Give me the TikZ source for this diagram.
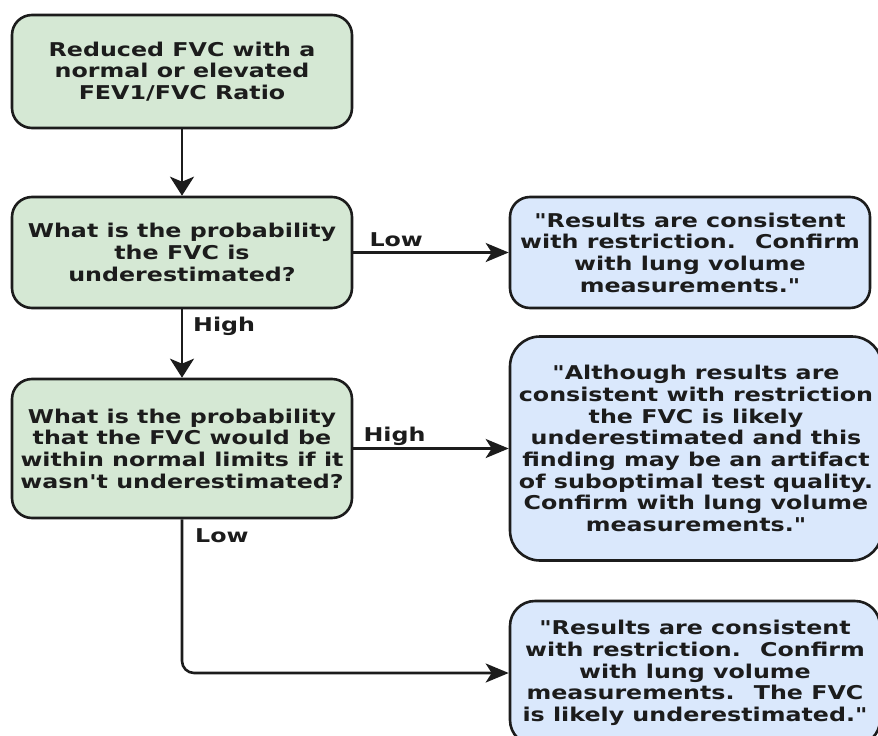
\documentclass[tikz,border=0pt]{standalone}
\usepackage{fontspec}
\newfontfamily\flowfont[FakeStretch=1.25]{DejaVu Sans}
\usetikzlibrary{arrows.meta}
\definecolor{ask-green}{HTML}{D5E8D4}
\definecolor{say-blue}{HTML}{DAE8FC}
\definecolor{ink}{HTML}{1C1C1C}

\begin{document}
\begin{tikzpicture}[x=1pt,y=-1pt,
  txt/.style={font=\flowfont\bfseries\fontsize{19}{21.7}\selectfont,text=ink},
  qbox/.style={txt,draw=ink,fill=ask-green,line width=2.6pt,rounded corners=20pt,align=center,inner sep=0pt,minimum width=340pt},
  sbox/.style={txt,draw=ink,fill=say-blue,line width=2.6pt,rounded corners=20pt,align=center,inner sep=0pt},
  lbl/.style={txt,inner sep=0pt,anchor=base west},
  vflow/.style={draw=ink,line width=2.6pt,-{Stealth[length=19pt,width=24pt,inset=5pt]}},
  hflow/.style={draw=ink,line width=2.6pt,-{Stealth[length=23pt,width=19pt,inset=6pt]}}]
  \useasboundingbox (0,0) rectangle (878,736);
  \node[qbox,minimum height=113pt] (start) at (182,71.5){Reduced FVC with a\\normal or elevated\\FEV1/FVC Ratio};
  \node[qbox,minimum height=111pt] (q1) at (182,252.5){What is the probability\\the FVC is\\underestimated?};
  \node[qbox,minimum height=139pt] (q2) at (182,448.5){What is the probability\\that the FVC would be\\within normal limits if it\\wasn't underestimated?};
  \node[sbox,minimum width=360pt,minimum height=111pt] (res1) at (690,252.5){"Results are consistent\\with restriction.~ Confirm\\with lung volume\\measurements."};
  \node[sbox,minimum width=372pt,minimum height=224pt,rounded corners=30pt] (res2) at (696,448.5){"Although results are\\consistent with restriction\\the FVC is likely\\underestimated and this\\finding may be an artifact\\of suboptimal test quality.\\Confirm with lung volume\\measurements."};
  \node[sbox,minimum width=370pt,minimum height=144pt,rounded corners=25pt] (res3) at (695,673){"Results are consistent\\with restriction.~ Confirm\\with lung volume\\measurements.~ The FVC\\is likely underestimated."};
  \draw[vflow] (start.south) -- (q1.north);
  \draw[hflow] (q1.east) -- (res1.west);
  \draw[vflow] (q1.south) -- (q2.north);
  \draw[hflow] (q2.east) -- (res2.west);
  \draw[hflow,rounded corners=12pt] (q2.south) |- (res3.west);
  \node[lbl] (lowA) at ([xshift=16pt,yshift=6pt]q1.east){Low};
  \node[lbl] (highA) at ([xshift=11pt,yshift=-22pt]q1.south){High};
  \node[lbl] (highB) at ([xshift=10pt,yshift=7pt]q2.east){High};
  \node[lbl] (lowB) at ([xshift=13pt,yshift=-23pt]q2.south){Low};
\end{tikzpicture}
\end{document}
